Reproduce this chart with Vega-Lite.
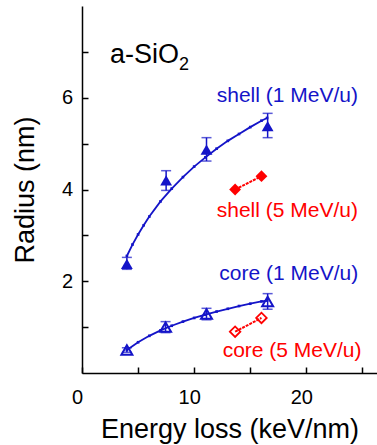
{
  "$schema": "https://vega.github.io/schema/vega-lite/v6.json",
  "width": 295,
  "height": 367,
  "autosize": {"type": "none"},
  "padding": {"left": 82, "top": 6, "right": 0, "bottom": 72},
  "background": "white",
  "config": {
    "view": {"stroke": null},
    "font": "Liberation Sans",
    "axis": {
      "domainColor": "black", "domainWidth": 1.5,
      "tickColor": "black", "tickWidth": 1.5, "tickSize": -6,
      "grid": false,
      "labelFont": "Liberation Sans", "labelFontSize": 20, "labelColor": "black",
      "labelFlush": false, "labelOverlap": false, "labelBound": false,
      "titleFont": "Liberation Sans", "titleFontSize": 27, "titleFontWeight": "normal", "titleColor": "black"
    }
  },
  "datasets": {
    "fit": [
      {"series": "shell (1 MeV/u)", "x": 4.0, "y": 2.55},
      {"series": "shell (1 MeV/u)", "x": 4.5, "y": 2.80},
      {"series": "shell (1 MeV/u)", "x": 5.0, "y": 3.02},
      {"series": "shell (1 MeV/u)", "x": 5.5, "y": 3.22},
      {"series": "shell (1 MeV/u)", "x": 6.0, "y": 3.41},
      {"series": "shell (1 MeV/u)", "x": 7.0, "y": 3.74},
      {"series": "shell (1 MeV/u)", "x": 8.0, "y": 4.02},
      {"series": "shell (1 MeV/u)", "x": 9.0, "y": 4.27},
      {"series": "shell (1 MeV/u)", "x": 10.0, "y": 4.50},
      {"series": "shell (1 MeV/u)", "x": 11.0, "y": 4.70},
      {"series": "shell (1 MeV/u)", "x": 12.0, "y": 4.89},
      {"series": "shell (1 MeV/u)", "x": 13.0, "y": 5.06},
      {"series": "shell (1 MeV/u)", "x": 14.0, "y": 5.21},
      {"series": "shell (1 MeV/u)", "x": 15.0, "y": 5.36},
      {"series": "shell (1 MeV/u)", "x": 16.0, "y": 5.50},
      {"series": "shell (1 MeV/u)", "x": 16.5, "y": 5.56},
      {"series": "core (1 MeV/u)", "x": 4.0, "y": 0.50},
      {"series": "core (1 MeV/u)", "x": 5.0, "y": 0.67},
      {"series": "core (1 MeV/u)", "x": 6.0, "y": 0.81},
      {"series": "core (1 MeV/u)", "x": 7.0, "y": 0.93},
      {"series": "core (1 MeV/u)", "x": 8.0, "y": 1.03},
      {"series": "core (1 MeV/u)", "x": 9.0, "y": 1.12},
      {"series": "core (1 MeV/u)", "x": 10.0, "y": 1.20},
      {"series": "core (1 MeV/u)", "x": 11.0, "y": 1.27},
      {"series": "core (1 MeV/u)", "x": 12.0, "y": 1.34},
      {"series": "core (1 MeV/u)", "x": 13.0, "y": 1.40},
      {"series": "core (1 MeV/u)", "x": 14.0, "y": 1.46},
      {"series": "core (1 MeV/u)", "x": 15.0, "y": 1.51},
      {"series": "core (1 MeV/u)", "x": 16.0, "y": 1.56},
      {"series": "core (1 MeV/u)", "x": 16.5, "y": 1.58}
    ],
    "pts": [
      {"series": "shell (1 MeV/u)", "fill": "filled", "x": 4.0, "y": 2.38, "lo": 2.26, "hi": 2.52},
      {"series": "shell (1 MeV/u)", "fill": "filled", "x": 7.5, "y": 4.2, "lo": 3.98, "hi": 4.41},
      {"series": "shell (1 MeV/u)", "fill": "filled", "x": 11.1, "y": 4.87, "lo": 4.62, "hi": 5.13},
      {"series": "shell (1 MeV/u)", "fill": "filled", "x": 16.55, "y": 5.38, "lo": 5.13, "hi": 5.66},
      {"series": "core (1 MeV/u)", "fill": "open", "x": 4.0, "y": 0.5, "lo": 0.45, "hi": 0.55},
      {"series": "core (1 MeV/u)", "fill": "open", "x": 7.45, "y": 1.0, "lo": 0.88, "hi": 1.12},
      {"series": "core (1 MeV/u)", "fill": "open", "x": 11.1, "y": 1.285, "lo": 1.16, "hi": 1.41},
      {"series": "core (1 MeV/u)", "fill": "open", "x": 16.55, "y": 1.56, "lo": 1.39, "hi": 1.73},
      {"series": "shell (5 MeV/u)", "fill": "filled", "x": 13.65, "y": 4.0},
      {"series": "shell (5 MeV/u)", "fill": "filled", "x": 16.0, "y": 4.29},
      {"series": "core (5 MeV/u)", "fill": "open", "x": 13.65, "y": 0.9},
      {"series": "core (5 MeV/u)", "fill": "open", "x": 16.0, "y": 1.2}
    ],
    "labels": [
      {"series": "shell (1 MeV/u)", "x": 12.01, "y": 5.914},
      {"series": "shell (5 MeV/u)", "x": 12.01, "y": 3.407},
      {"series": "core (1 MeV/u)", "x": 12.24, "y": 2.027},
      {"series": "core (5 MeV/u)", "x": 12.54, "y": 0.355}
    ],
    "material": [
      {"text": "a-SiO", "x": 2.5, "y": 6.757}
    ],
    "subscript": [
      {"text": "2", "x": 8.65, "y": 6.6}
    ]
  },
  "encoding": {
    "x": {
      "field": "x", "type": "quantitative",
      "scale": {"domain": [0, 26.3], "nice": false, "zero": false},
      "axis": {
        "values": [0, 5, 10, 15, 20, 25],
        "labelExpr": "datum.value % 10 === 0 ? datum.label : ''",
        "labelPadding": 20.5, "labelOffset": -5,
        "title": "Energy loss (keV/nm)",
        "titleBaseline": "alphabetic", "titleY": 64
      }
    },
    "y": {
      "field": "y", "type": "quantitative",
      "scale": {"domain": [0, 8], "nice": false, "zero": false},
      "axis": {
        "values": [1, 2, 3, 4, 5, 6, 7],
        "labelExpr": "datum.value % 2 === 0 ? datum.label : ''",
        "labelPadding": 15.5,
        "title": "Radius (nm)",
        "titleBaseline": "alphabetic", "titleX": -49
      }
    },
    "color": {
      "field": "series", "type": "nominal",
      "scale": {
        "domain": ["shell (1 MeV/u)", "core (1 MeV/u)", "shell (5 MeV/u)", "core (5 MeV/u)"],
        "range": ["#1414c8", "#1414c8", "#ff0000", "#ff0000"]
      },
      "legend": null
    }
  },
  "layer": [
    {
      "data": {"values": [{}]},
      "mark": {"type": "rule", "color": "black", "strokeWidth": 1.5},
      "encoding": {
        "x": {"datum": 0, "type": "quantitative"},
        "x2": {"datum": 26.3},
        "y": {"datum": 8, "type": "quantitative"},
        "color": {"value": "black"}
      }
    },
    {
      "data": {"name": "fit"},
      "mark": {"type": "line", "strokeWidth": 1.8},
      "encoding": {"detail": {"field": "series"}}
    },
    {
      "data": {"name": "fit"},
      "mark": {"type": "point", "shape": "square", "filled": true, "size": 7, "opacity": 1}
    },
    {
      "data": {"name": "pts"},
      "transform": [{"filter": "indexof(datum.series, '5 MeV') >= 0"}],
      "mark": {"type": "line", "strokeWidth": 2, "strokeDash": [3, 1]},
      "encoding": {"detail": {"field": "series"}}
    },
    {
      "data": {"name": "pts"},
      "transform": [{"filter": "isValid(datum.lo)"}],
      "mark": {"type": "rule", "strokeWidth": 1.5},
      "encoding": {
        "y": {"field": "lo", "type": "quantitative"},
        "y2": {"field": "hi"}
      }
    },
    {
      "data": {"name": "pts"},
      "transform": [{"filter": "isValid(datum.lo)"}],
      "mark": {"type": "tick", "orient": "horizontal", "size": 10, "thickness": 1.5},
      "encoding": {"y": {"field": "lo", "type": "quantitative"}}
    },
    {
      "data": {"name": "pts"},
      "transform": [{"filter": "isValid(datum.hi)"}],
      "mark": {"type": "tick", "orient": "horizontal", "size": 10, "thickness": 1.5},
      "encoding": {"y": {"field": "hi", "type": "quantitative"}}
    },
    {
      "data": {"name": "pts"},
      "transform": [{"filter": "indexof(datum.series, '1 MeV') >= 0 && datum.fill === 'filled'"}],
      "mark": {"type": "point", "shape": "triangle-up", "filled": true, "size": 140, "opacity": 1}
    },
    {
      "data": {"name": "pts"},
      "transform": [{"filter": "indexof(datum.series, '1 MeV') >= 0 && datum.fill === 'open'"}],
      "mark": {"type": "point", "shape": "triangle-up", "filled": false, "size": 120, "strokeWidth": 2, "opacity": 1}
    },
    {
      "data": {"name": "pts"},
      "transform": [{"filter": "indexof(datum.series, '5 MeV') >= 0 && datum.fill === 'filled'"}],
      "mark": {"type": "point", "shape": "diamond", "filled": true, "size": 140, "opacity": 1}
    },
    {
      "data": {"name": "pts"},
      "transform": [{"filter": "indexof(datum.series, '5 MeV') >= 0 && datum.fill === 'open'"}],
      "mark": {"type": "point", "shape": "diamond", "filled": false, "size": 110, "strokeWidth": 1.8, "opacity": 1}
    },
    {
      "data": {"name": "labels"},
      "mark": {"type": "text", "align": "left", "baseline": "alphabetic", "fontSize": 21, "font": "Liberation Sans"},
      "encoding": {"text": {"field": "series"}}
    },
    {
      "data": {"name": "material"},
      "mark": {"type": "text", "align": "left", "baseline": "alphabetic", "fontSize": 27, "font": "Liberation Sans", "color": "black"},
      "encoding": {"text": {"field": "text"}, "color": {"value": "black"}}
    },
    {
      "data": {"name": "subscript"},
      "mark": {"type": "text", "align": "left", "baseline": "alphabetic", "fontSize": 18, "font": "Liberation Sans", "color": "black"},
      "encoding": {"text": {"field": "text"}, "color": {"value": "black"}}
    }
  ]
}
